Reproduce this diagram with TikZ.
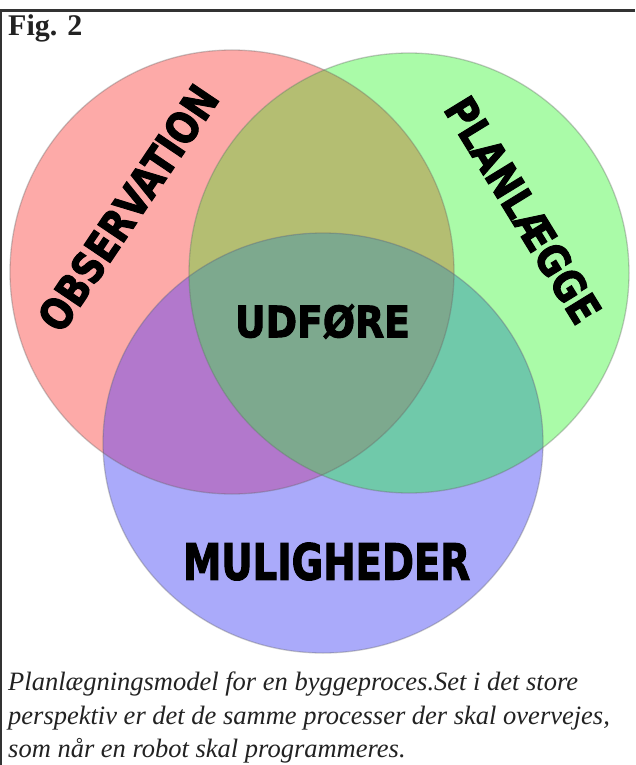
\documentclass[tikz,border=0pt]{standalone}
\usepackage{fontspec}
\usepackage{graphicx}
\setmainfont{Liberation Serif}
\newfontfamily\lblfont{DejaVu Sans}[BoldFeatures={FakeBold=2.5}]
\definecolor{redc}{HTML}{FDAAA8}
\definecolor{greenc}{HTML}{AAFBA8}
\definecolor{bluec}{HTML}{AAAAFA}
\definecolor{rgc}{HTML}{B4BE72}
\definecolor{rbc}{HTML}{B278CC}
\definecolor{gbc}{HTML}{70C9AA}
\definecolor{rgbc}{HTML}{7DA98E}
\definecolor{inkc}{HTML}{222222}
\tikzset{
  lbl/.style={inner sep=0pt, text=black, font=\lblfont\bfseries},
  capline/.style={anchor=base west, inner sep=0pt, text=inkc, font=\fontsize{26.5}{35}\selectfont\itshape},
  rim/.style={draw=black!60, draw opacity=0.35, line width=1.3pt},
  frameline/.style={draw=black!80, line width=2.4pt}
}
\begin{document}
\begin{tikzpicture}[x=1pt,y=-1pt]
\useasboundingbox (0,0) rectangle (635,765);
\fill[white] (0,0) rectangle (635,765);
\coordinate (R) at (232,272);
\coordinate (G) at (409,273);
\coordinate (B) at (323,443);
\def\redpath{(R) circle[radius=222pt]}
\def\greenpath{(G) circle[radius=220pt]}
\def\bluepath{(B) ellipse[x radius=220pt, y radius=210pt]}
\fill[redc] \redpath;
\fill[greenc] \greenpath;
\fill[bluec] \bluepath;
\begin{scope}\clip \redpath; \fill[rgc] \greenpath; \end{scope}
\begin{scope}\clip \redpath; \fill[rbc] \bluepath; \end{scope}
\begin{scope}\clip \greenpath; \fill[gbc] \bluepath; \end{scope}
\begin{scope}\clip \redpath; \clip \greenpath; \fill[rgbc] \bluepath; \end{scope}
\draw[rim] \redpath;
\draw[rim] \greenpath;
\draw[rim] \bluepath;
% frame (top and left)
\coordinate (tl) at (0.5,10.7);
\coordinate (tr) at (635,10.7);
\coordinate (bl) at (0.5,765);
\draw[frameline] (tr) -- (tl) -- (bl);
% labels
\node[lbl] (udf) at (322.5,321.5) {\resizebox{175pt}{33pt}{UDFØRE}};
\node[lbl] (mul) at (326.5,561.5) {\resizebox{287pt}{37pt}{MULIGHEDER}};
\node[lbl, rotate=56] (obs) at (128,208) {\resizebox{285pt}{32pt}{OBSERVATION}};
\node[lbl, rotate=-58.5] (plan) at (523,210) {\resizebox{256pt}{32pt}{PLANLÆGGE}};
\node[anchor=base west, inner sep=0pt, text=inkc, font=\fontsize{30}{36}\selectfont\bfseries] (fig) at (8,36) {Fig. 2};
\node[capline] (cap1) at (8,690) {Planlægningsmodel for en byggeproces.Set i det store};
\node[capline] (cap2) at (8,724) {perspektiv er det de samme processer der skal overvejes,};
\node[capline] (cap3) at (8,757) {som når en robot skal programmeres.};
\end{tikzpicture}
\end{document}
